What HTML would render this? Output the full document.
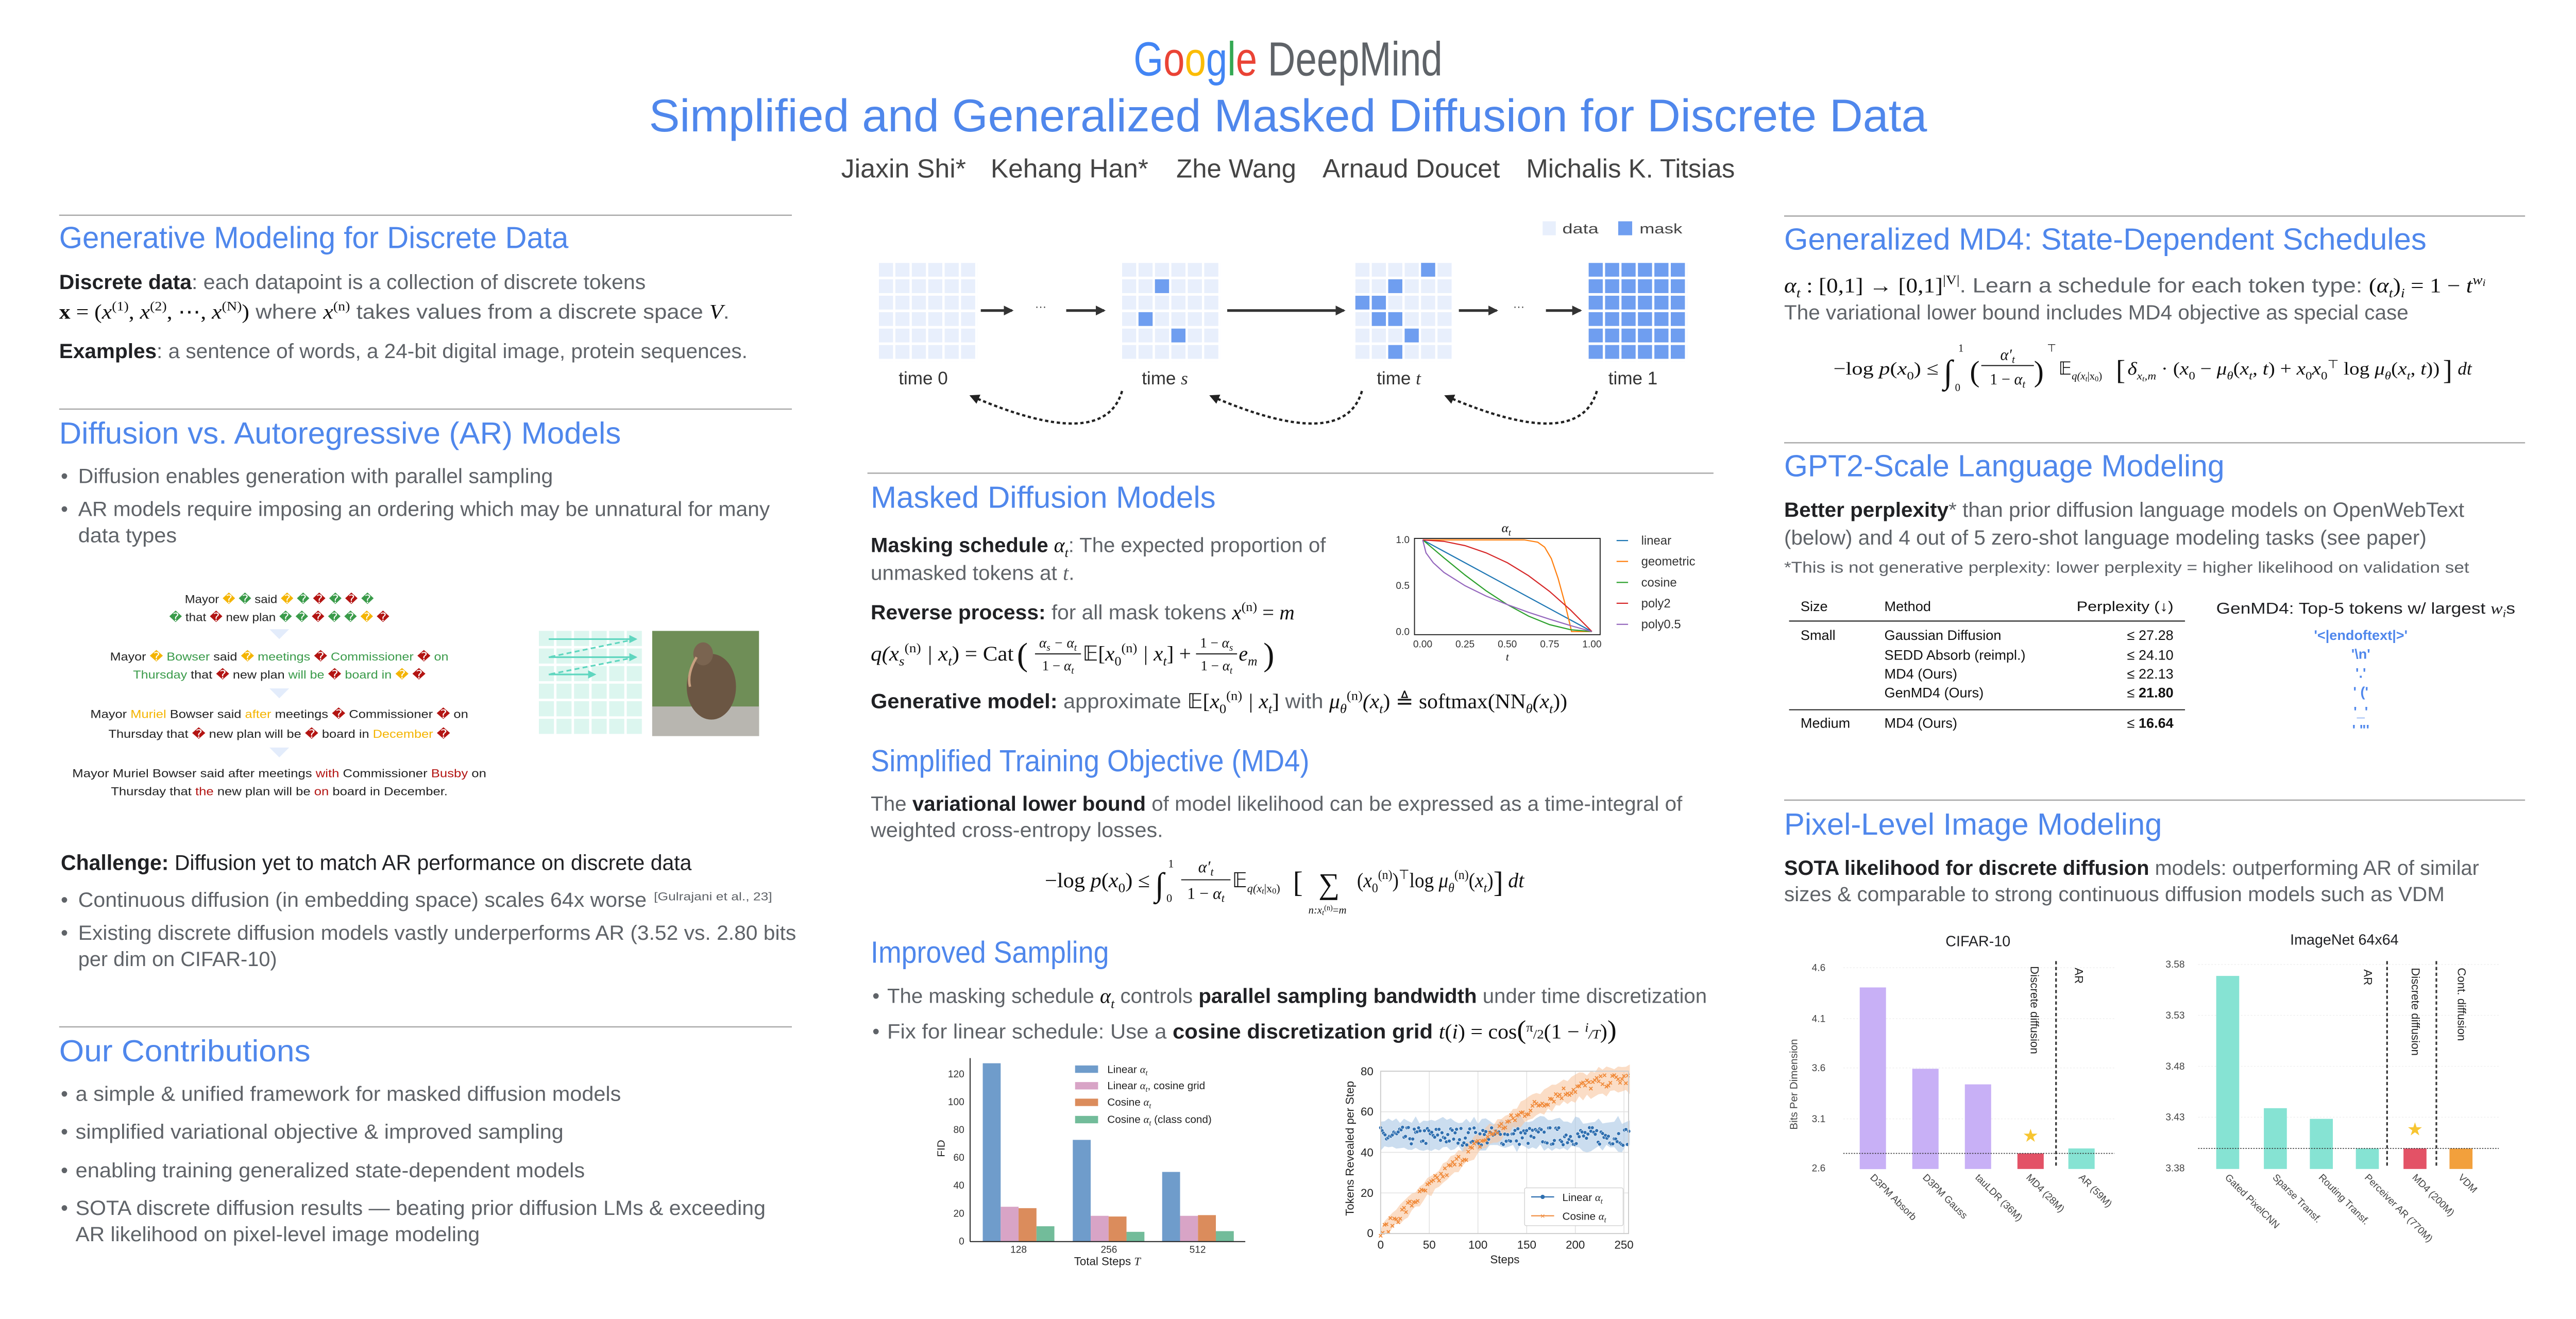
<!DOCTYPE html>
<html><head><meta charset="utf-8"><style>
html,body{margin:0;padding:0;background:#fff;width:100%;overflow:hidden;}
svg#p{display:block;width:100vw;height:50vw;}
text{font-family:"Liberation Sans",sans-serif;}
.h{font-size:18.5px;fill:#4f87ec;}
.b{font-size:12.5px;fill:#5f6368;}
.k{fill:#202124;font-weight:bold;}
.m{font-family:"Liberation Serif",serif;font-style:italic;}
.r{font-family:"Liberation Serif",serif;}
.s{font-size:7px;fill:#333;}
.tk{font-size:6px;fill:#333;}
.tb{font-family:"Liberation Serif",serif;font-size:8.5px;fill:#111;}
.ax{stroke:#222;stroke-width:0.6;fill:none;}
</style></head><body>
<svg id="p" xmlns="http://www.w3.org/2000/svg" width="5120" height="2560" viewBox="0 0 1568 784" preserveAspectRatio="none">
<defs>
<pattern id="cd" x="0" y="0" width="10" height="10" patternUnits="userSpaceOnUse"><rect width="8.6" height="8.4" fill="#e8effc"/></pattern>
<pattern id="cm" x="0" y="0" width="10" height="10" patternUnits="userSpaceOnUse"><rect width="8.6" height="8.4" fill="#6f9ef0"/></pattern>
<pattern id="cg" x="0" y="0" width="10.7" height="10.7" patternUnits="userSpaceOnUse"><rect width="9.2" height="9.2" fill="#dcf6ef"/></pattern>
<marker id="ah" markerWidth="6" markerHeight="6" refX="5" refY="3" orient="auto" markerUnits="userSpaceOnUse"><path d="M0,0 L6,3 L0,6 z" fill="#333"/></marker>
<marker id="ah2" markerWidth="6" markerHeight="6" refX="5" refY="3" orient="auto" markerUnits="userSpaceOnUse"><path d="M0,0 L6,3 L0,6 z" fill="#222"/></marker>
<marker id="ta" markerWidth="5" markerHeight="5" refX="4" refY="2.5" orient="auto" markerUnits="userSpaceOnUse"><path d="M0,0 L5,2.5 L0,5 z" fill="#5fd6bf"/></marker>
</defs>

<text x="690" y="46" font-size="29" textLength="188" lengthAdjust="spacingAndGlyphs"><tspan fill="#4285f4">G</tspan><tspan fill="#ea4335">o</tspan><tspan fill="#fbbc05">o</tspan><tspan fill="#4285f4">g</tspan><tspan fill="#34a853">l</tspan><tspan fill="#ea4335">e</tspan><tspan fill="#5f6368"> DeepMind</tspan></text>
<text x="395" y="80" font-size="28" fill="#4f87ec" textLength="778" lengthAdjust="spacingAndGlyphs">Simplified and Generalized Masked Diffusion for Discrete Data</text>
<g font-size="16" fill="#444">
<text x="512" y="108" textLength="76" lengthAdjust="spacingAndGlyphs">Jiaxin Shi*</text>
<text x="603" y="108" textLength="96" lengthAdjust="spacingAndGlyphs">Kehang Han*</text>
<text x="716" y="108" textLength="73" lengthAdjust="spacingAndGlyphs">Zhe Wang</text>
<text x="805" y="108" textLength="108" lengthAdjust="spacingAndGlyphs">Arnaud Doucet</text>
<text x="929" y="108" textLength="127" lengthAdjust="spacingAndGlyphs">Michalis K. Titsias</text>
</g>

<line x1="36" y1="131" x2="482" y2="131" stroke="#aaa" stroke-width="0.8"/>
<text class="h" x="36" y="151" textLength="310" lengthAdjust="spacingAndGlyphs">Generative Modeling for Discrete Data</text>
<text class="b" x="36" y="176" textLength="357" lengthAdjust="spacingAndGlyphs"><tspan class="k">Discrete data</tspan>: each datapoint is a collection of discrete tokens</text>
<text class="b" x="36" y="194" textLength="408" lengthAdjust="spacingAndGlyphs" fill="#333"><tspan class="r" font-weight="bold" fill="#111">x</tspan><tspan class="r" fill="#111"> = (</tspan><tspan class="m" fill="#111">x</tspan><tspan class="r" font-size="8" dy="-5" fill="#111">(1)</tspan><tspan class="r" dy="5" fill="#111">, </tspan><tspan class="m" fill="#111">x</tspan><tspan class="r" font-size="8" dy="-5" fill="#111">(2)</tspan><tspan class="r" dy="5" fill="#111">, ⋯, </tspan><tspan class="m" fill="#111">x</tspan><tspan class="r" font-size="8" dy="-5" fill="#111">(N)</tspan><tspan class="r" dy="5" fill="#111">)</tspan> where <tspan class="m" fill="#111">x</tspan><tspan class="r" font-size="8" dy="-5" fill="#111">(n)</tspan><tspan dy="5"> takes values from a discrete space </tspan><tspan class="m" fill="#111">V</tspan>.</text>
<text class="b" x="36" y="218" textLength="419" lengthAdjust="spacingAndGlyphs"><tspan class="k">Examples</tspan>: a sentence of words, a 24-bit digital image, protein sequences.</text>

<line x1="36" y1="249" x2="482" y2="249" stroke="#aaa" stroke-width="0.8"/>
<text class="h" x="36" y="270" textLength="342" lengthAdjust="spacingAndGlyphs">Diffusion vs. Autoregressive (AR) Models</text>
<g class="b">
<text x="37" y="294">•</text><text x="47.6" y="294" textLength="289" lengthAdjust="spacingAndGlyphs">Diffusion enables generation with parallel sampling</text>
<text x="37" y="314">•</text><text x="47.6" y="314" textLength="421" lengthAdjust="spacingAndGlyphs">AR models require imposing an ordering which may be unnatural for many</text>
<text x="47.6" y="330" textLength="60" lengthAdjust="spacingAndGlyphs">data types</text>
</g>

<g font-size="7" fill="#222" text-anchor="middle">
<text x="170" y="367" textLength="115" lengthAdjust="spacingAndGlyphs">Mayor <tspan fill="#f4b400">�</tspan> <tspan fill="#3a9b4a">�</tspan> said <tspan fill="#f4b400">�</tspan> <tspan fill="#3a9b4a">�</tspan> <tspan fill="#b31412">�</tspan> <tspan fill="#3a9b4a">�</tspan> <tspan fill="#b31412">�</tspan> <tspan fill="#3a9b4a">�</tspan></text>
<text x="170" y="378" textLength="134" lengthAdjust="spacingAndGlyphs"><tspan fill="#3a9b4a">�</tspan> that <tspan fill="#b31412">�</tspan> new plan <tspan fill="#3a9b4a">�</tspan> <tspan fill="#3a9b4a">�</tspan> <tspan fill="#b31412">�</tspan> <tspan fill="#3a9b4a">�</tspan> <tspan fill="#3a9b4a">�</tspan> <tspan fill="#f4b400">�</tspan> <tspan fill="#b31412">�</tspan></text>
<text x="170" y="402" textLength="206" lengthAdjust="spacingAndGlyphs">Mayor <tspan fill="#f4b400">�</tspan> <tspan fill="#3a9b4a">Bowser</tspan> said <tspan fill="#f4b400">�</tspan> <tspan fill="#3a9b4a">meetings</tspan> <tspan fill="#b31412">�</tspan> <tspan fill="#3a9b4a">Commissioner</tspan> <tspan fill="#b31412">�</tspan> <tspan fill="#3a9b4a">on</tspan></text>
<text x="170" y="413" textLength="178" lengthAdjust="spacingAndGlyphs"><tspan fill="#3a9b4a">Thursday</tspan> that <tspan fill="#b31412">�</tspan> new plan <tspan fill="#3a9b4a">will be</tspan> <tspan fill="#b31412">�</tspan> <tspan fill="#3a9b4a">board in</tspan> <tspan fill="#f4b400">�</tspan> <tspan fill="#b31412">�</tspan></text>
<text x="170" y="437" textLength="230" lengthAdjust="spacingAndGlyphs">Mayor <tspan fill="#f4b400">Muriel</tspan> Bowser said <tspan fill="#f4b400">after</tspan> meetings <tspan fill="#b31412">�</tspan> Commissioner <tspan fill="#b31412">�</tspan> on</text>
<text x="170" y="449" textLength="208" lengthAdjust="spacingAndGlyphs">Thursday that <tspan fill="#b31412">�</tspan> new plan will be <tspan fill="#b31412">�</tspan> board in <tspan fill="#f4b400">December</tspan> <tspan fill="#b31412">�</tspan></text>
<text x="170" y="473" textLength="252" lengthAdjust="spacingAndGlyphs">Mayor Muriel Bowser said after meetings <tspan fill="#b31412">with</tspan> Commissioner <tspan fill="#b31412">Busby</tspan> on</text>
<text x="170" y="484" textLength="205" lengthAdjust="spacingAndGlyphs">Thursday that <tspan fill="#b31412">the</tspan> new plan will be <tspan fill="#b31412">on</tspan> board in December.</text>
</g>
<g fill="#e3ecfb">
<path d="M164,383 L176,383 L170,389 z"/><path d="M164,419 L176,419 L170,425 z"/><path d="M164,455 L176,455 L170,461 z"/>
</g>
<g transform="translate(328,384)"><rect width="64" height="64" fill="url(#cg)"/></g>
<g stroke="#5fd6bf" stroke-width="1">
<line x1="334" y1="389" x2="387" y2="389" marker-end="url(#ta)"/>
<line x1="334" y1="400" x2="387" y2="400" marker-end="url(#ta)"/>
<line x1="334" y1="410.5" x2="362" y2="410.5" marker-end="url(#ta)"/>
<line x1="387" y1="389" x2="334" y2="400" stroke-dasharray="3,2"/>
<line x1="387" y1="400" x2="334" y2="410.5" stroke-dasharray="3,2"/>
</g>
<rect x="397" y="384" width="65" height="64" fill="#6f8e57"/>
<rect x="397" y="430" width="65" height="18" fill="#b8b6b0"/>
<ellipse cx="433" cy="418" rx="15" ry="20" fill="#6b5643"/>
<ellipse cx="428" cy="398" rx="6" ry="7" fill="#7a6450"/>
<path d="M424,400 Q418,410 420,418" stroke="#c8a080" stroke-width="1.5" fill="none"/>

<text x="37" y="529.5" font-size="13" fill="#202124" textLength="384" lengthAdjust="spacingAndGlyphs"><tspan font-weight="bold">Challenge:</tspan> Diffusion yet to match AR performance on discrete data</text>
<g class="b">
<text x="37" y="552">•</text><text x="47.6" y="552" textLength="346" lengthAdjust="spacingAndGlyphs">Continuous diffusion (in embedding space) scales 64x worse</text>
<text x="398" y="548" font-size="7" textLength="72" lengthAdjust="spacingAndGlyphs">[Gulrajani et al., 23]</text>
<text x="37" y="572">•</text><text x="47.6" y="572" textLength="437" lengthAdjust="spacingAndGlyphs">Existing discrete diffusion models vastly underperforms AR (3.52 vs. 2.80 bits</text>
<text x="47.6" y="588" textLength="121" lengthAdjust="spacingAndGlyphs">per dim on CIFAR-10)</text>
</g>

<line x1="36" y1="625" x2="482" y2="625" stroke="#aaa" stroke-width="0.8"/>
<text class="h" x="36" y="646" textLength="153" lengthAdjust="spacingAndGlyphs">Our Contributions</text>
<g class="b">
<text x="37" y="670">•</text><text x="46" y="670" textLength="332" lengthAdjust="spacingAndGlyphs">a simple &amp; unified framework for masked diffusion models</text>
<text x="37" y="693">•</text><text x="46" y="693" textLength="297" lengthAdjust="spacingAndGlyphs">simplified variational objective &amp; improved sampling</text>
<text x="37" y="716.5">•</text><text x="46" y="716.5" textLength="310" lengthAdjust="spacingAndGlyphs">enabling training generalized state-dependent models</text>
<text x="37" y="739.5">•</text><text x="46" y="739.5" textLength="420" lengthAdjust="spacingAndGlyphs">SOTA discrete diffusion results — beating prior diffusion LMs &amp; exceeding</text>
<text x="46" y="755.5" textLength="246" lengthAdjust="spacingAndGlyphs">AR likelihood on pixel-level image modeling</text>
</g>

<rect x="939" y="134.7" width="8" height="8.5" fill="#e8effc"/>
<text x="951" y="142" font-size="8.5" fill="#444" textLength="22" lengthAdjust="spacingAndGlyphs">data</text>
<rect x="985" y="134.7" width="8.5" height="8.5" fill="#6f9ef0"/>
<text x="998" y="142" font-size="8.5" fill="#444" textLength="26" lengthAdjust="spacingAndGlyphs">mask</text>

<g transform="translate(535,160)"><rect width="60" height="60" fill="url(#cd)"/></g>
<g transform="translate(683,160)"><rect width="60" height="60" fill="url(#cd)"/>
<g fill="#6f9ef0"><rect x="20" y="10" width="8.6" height="8.4"/><rect x="10" y="30" width="8.6" height="8.4"/><rect x="30" y="40" width="8.6" height="8.4"/></g></g>
<g transform="translate(825,160)"><rect width="60" height="60" fill="url(#cd)"/>
<g fill="#6f9ef0"><rect x="40" y="0" width="8.6" height="8.4"/><rect x="20" y="10" width="8.6" height="8.4"/><rect x="0" y="20" width="8.6" height="8.4"/><rect x="10" y="20" width="8.6" height="8.4"/><rect x="10" y="30" width="8.6" height="8.4"/><rect x="20" y="30" width="8.6" height="8.4"/><rect x="30" y="40" width="8.6" height="8.4"/><rect x="20" y="50" width="8.6" height="8.4"/></g></g>
<g transform="translate(967,160)"><rect width="60" height="60" fill="url(#cm)"/></g>
<g font-size="11" fill="#333">
<text x="547" y="234">time 0</text>
<text x="695" y="234">time <tspan class="m">s</tspan></text>
<text x="838" y="234">time <tspan class="m">t</tspan></text>
<text x="979" y="234">time 1</text>
</g>
<g stroke="#333" stroke-width="1.6">
<line x1="597" y1="189" x2="616" y2="189" marker-end="url(#ah)"/>
<line x1="649" y1="189" x2="672" y2="189" marker-end="url(#ah)"/>
<line x1="747" y1="189" x2="818" y2="189" marker-end="url(#ah)"/>
<line x1="888" y1="189" x2="911" y2="189" marker-end="url(#ah)"/>
<line x1="941" y1="189" x2="962" y2="189" marker-end="url(#ah)"/>
</g>
<text x="630" y="189" font-size="7" fill="#333">···</text>
<text x="921" y="189" font-size="7" fill="#333">···</text>
<g stroke="#222" stroke-width="1.4" fill="none" stroke-dasharray="2,1.6">
<path d="M683,238 Q672,276 591,241" marker-end="url(#ah2)"/>
<path d="M829,238 Q818,276 737,241" marker-end="url(#ah2)"/>
<path d="M972,238 Q961,276 880,241" marker-end="url(#ah2)"/>
</g>

<line x1="528" y1="288" x2="1043" y2="288" stroke="#aaa" stroke-width="0.8"/>
<text class="h" x="530" y="309" textLength="210" lengthAdjust="spacingAndGlyphs">Masked Diffusion Models</text>
<text class="b" x="530" y="336" textLength="277" lengthAdjust="spacingAndGlyphs"><tspan class="k">Masking schedule </tspan><tspan class="m" fill="#111">α</tspan><tspan class="m" font-size="8" dy="3" fill="#111">t</tspan><tspan dy="-3">: The expected proportion of</tspan></text>
<text class="b" x="530" y="353" textLength="124" lengthAdjust="spacingAndGlyphs">unmasked tokens at <tspan class="m">t</tspan>.</text>
<text class="b" x="530" y="377" textLength="258" lengthAdjust="spacingAndGlyphs"><tspan class="k">Reverse process:</tspan> for all mask tokens <tspan class="m" fill="#111">x</tspan><tspan class="r" font-size="8" dy="-5" fill="#111">(n)</tspan><tspan class="r" dy="5" fill="#111"> = </tspan><tspan class="m" fill="#111">m</tspan></text>
<g fill="#111" font-size="12.5">
<text x="530" y="402" class="m" textLength="87" lengthAdjust="spacingAndGlyphs">q(x<tspan font-size="8" dy="3">s</tspan><tspan font-size="8" dy="-8" font-style="normal">(n)</tspan><tspan dy="5"> | x</tspan><tspan font-size="8" dy="3">t</tspan><tspan dy="-3" font-style="normal">) = Cat</tspan></text>
<text x="619" y="405" class="r" font-size="20">(</text>
<text x="644" y="394" class="m" font-size="8.5" text-anchor="middle">α<tspan font-size="6" dy="2">s</tspan><tspan dy="-2"> − α</tspan><tspan font-size="6" dy="2">t</tspan></text>
<line x1="630" y1="398" x2="658" y2="398" stroke="#111" stroke-width="0.6"/>
<text x="644" y="408" class="m" font-size="8.5" text-anchor="middle"><tspan font-style="normal">1 − </tspan>α<tspan font-size="6" dy="2">t</tspan></text>
<text x="659" y="402" class="m" textLength="66" lengthAdjust="spacingAndGlyphs"><tspan class="r" font-style="normal">𝔼[</tspan>x<tspan font-size="8" dy="3" font-style="normal">0</tspan><tspan font-size="8" dy="-8" font-style="normal">(n)</tspan><tspan dy="5"> | x</tspan><tspan font-size="8" dy="3">t</tspan><tspan dy="-3" font-style="normal">] +</tspan></text>
<text x="740.5" y="394" class="m" font-size="8.5" text-anchor="middle"><tspan font-style="normal">1 − </tspan>α<tspan font-size="6" dy="2">s</tspan></text>
<line x1="728" y1="398" x2="753" y2="398" stroke="#111" stroke-width="0.6"/>
<text x="740.5" y="408" class="m" font-size="8.5" text-anchor="middle"><tspan font-style="normal">1 − </tspan>α<tspan font-size="6" dy="2">t</tspan></text>
<text x="754" y="402" class="m">e<tspan font-size="8" dy="3">m</tspan></text>
<text x="769" y="405" class="r" font-size="20">)</text>
</g>
<text class="b" x="530" y="431" textLength="424" lengthAdjust="spacingAndGlyphs"><tspan class="k">Generative model:</tspan> approximate <tspan class="r" fill="#111">𝔼[</tspan><tspan class="m" fill="#111">x</tspan><tspan class="r" font-size="8" dy="3" fill="#111">0</tspan><tspan class="r" font-size="8" dy="-8" fill="#111">(n)</tspan><tspan class="m" dy="5" fill="#111"> | x</tspan><tspan class="m" font-size="8" dy="3" fill="#111">t</tspan><tspan class="r" dy="-3" fill="#111">]</tspan> with <tspan class="m" fill="#111">μ</tspan><tspan class="m" font-size="8" dy="3" fill="#111">θ</tspan><tspan class="r" font-size="8" dy="-8" fill="#111">(n)</tspan><tspan class="m" dy="5" fill="#111">(x</tspan><tspan class="m" font-size="8" dy="3" fill="#111">t</tspan><tspan class="r" dy="-3" fill="#111">) ≜ softmax(NN</tspan><tspan class="m" font-size="8" dy="3" fill="#111">θ</tspan><tspan class="m" dy="-3" fill="#111">(x</tspan><tspan class="m" font-size="8" dy="3" fill="#111">t</tspan><tspan class="r" dy="-3" fill="#111">))</tspan></text>

<text x="914" y="324" class="m" font-size="8" fill="#111">α<tspan font-size="5.5" dy="2">t</tspan></text>
<rect x="861" y="327.7" width="113" height="58.6" fill="none" stroke="#222" stroke-width="0.6"/>
<g class="tk" text-anchor="end"><text x="858" y="330.5">1.0</text><text x="858" y="358.5">0.5</text><text x="858" y="386.5">0.0</text></g>
<g class="tk" text-anchor="middle"><text x="866" y="394">0.00</text><text x="891.75" y="394">0.25</text><text x="917.5" y="394">0.50</text><text x="943.25" y="394">0.75</text><text x="969" y="394">1.00</text></g>
<text x="917.5" y="402" class="m" font-size="6.5" text-anchor="middle" fill="#111">t</text>
<g fill="none" stroke-width="0.7">
<polyline stroke="#1f77b4" points="866,328.6 969,384.4"/>
<polyline stroke="#ff7f0e" points="866,328.6 927.8,328.6 936,330 940.2,333 944.3,340 948.4,352 952.5,367 955.6,380 956.6,384.4 969,384.4"/>
<polyline stroke="#2ca02c" points="866,328.6 878.9,339.5 891.75,350 904.6,359.6 917.5,368 930.4,375 943.25,380.2 956.1,383.3 969,384.4"/>
<polyline stroke="#d62728" points="866,328.6 878.9,329.5 891.75,332.1 904.6,336.5 917.5,342.5 930.4,350.4 943.25,360 956.1,371.4 969,384.4"/>
<polyline stroke="#9467bd" points="866,328.6 868,336.5 872.4,342.5 878.9,348.4 891.75,356.5 904.6,362.8 917.5,368 930.4,372.7 943.25,376.9 956.1,380.8 969,384.4"/>
</g>
<g font-size="7.5" fill="#333">
<line x1="984" y1="329" x2="991" y2="329" stroke="#1f77b4" stroke-width="0.7"/><text x="999" y="331.5">linear</text>
<line x1="984" y1="341.7" x2="991" y2="341.7" stroke="#ff7f0e" stroke-width="0.7"/><text x="999" y="344.2">geometric</text>
<line x1="984" y1="354.5" x2="991" y2="354.5" stroke="#2ca02c" stroke-width="0.7"/><text x="999" y="357">cosine</text>
<line x1="984" y1="367.2" x2="991" y2="367.2" stroke="#d62728" stroke-width="0.7"/><text x="999" y="369.7">poly2</text>
<line x1="984" y1="380" x2="991" y2="380" stroke="#9467bd" stroke-width="0.7"/><text x="999" y="382.5">poly0.5</text>
</g>

<text class="h" x="530" y="469.5" textLength="267" lengthAdjust="spacingAndGlyphs">Simplified Training Objective (MD4)</text>
<text class="b" x="530" y="493.5" textLength="494" lengthAdjust="spacingAndGlyphs">The <tspan class="k">variational lower bound</tspan> of model likelihood can be expressed as a time-integral of</text>
<text class="b" x="530" y="509.5" textLength="178" lengthAdjust="spacingAndGlyphs">weighted cross-entropy losses.</text>
<g fill="#111" font-size="12.5">
<text x="636" y="540" class="r" textLength="64" lengthAdjust="spacingAndGlyphs">−log <tspan class="m">p</tspan>(<tspan class="m">x</tspan><tspan font-size="8" dy="3">0</tspan><tspan dy="-3">) ≤</tspan></text>
<text x="703" y="545" class="r" font-size="20">∫</text>
<text x="711" y="528" class="r" font-size="7">1</text><text x="710" y="549" class="r" font-size="7">0</text>
<text x="734" y="531" class="m" font-size="10" text-anchor="middle">α′<tspan font-size="7" dy="2">t</tspan></text>
<line x1="719" y1="535.5" x2="749" y2="535.5" stroke="#111" stroke-width="0.6"/>
<text x="734" y="547" class="m" font-size="10" text-anchor="middle"><tspan font-style="normal">1 − </tspan>α<tspan font-size="7" dy="2">t</tspan></text>
<text x="750" y="540" class="r">𝔼<tspan class="m" font-size="7" dy="3">q(x</tspan><tspan class="m" font-size="5" dy="1">t</tspan><tspan class="r" font-size="7" dy="-1">|x</tspan><tspan class="r" font-size="5" dy="1">0</tspan><tspan class="r" font-size="7" dy="-1">)</tspan></text>
<text x="787" y="543" class="r" font-size="18">[</text>
<text x="809" y="544" class="r" font-size="18" text-anchor="middle">∑</text>
<text x="808" y="556" class="m" font-size="6.5" text-anchor="middle">n:x<tspan font-size="4.5" dy="1">t</tspan><tspan font-size="4.5" dy="-3" font-style="normal">(n)</tspan><tspan dy="2" font-style="normal">=</tspan>m</text>
<text x="826" y="540" class="r" textLength="83" lengthAdjust="spacingAndGlyphs">(<tspan class="m">x</tspan><tspan font-size="8" dy="3">0</tspan><tspan font-size="8" dy="-8">(n)</tspan><tspan dy="5">)</tspan><tspan font-size="8" dy="-5">⊤</tspan><tspan dy="5">log </tspan><tspan class="m">μ</tspan><tspan class="m" font-size="8" dy="3">θ</tspan><tspan font-size="8" dy="-8">(n)</tspan><tspan dy="5">(</tspan><tspan class="m">x</tspan><tspan class="m" font-size="8" dy="3">t</tspan><tspan dy="-3">)</tspan></text>
<text x="909" y="543" class="r" font-size="18">]</text>
<text x="918" y="540" class="m">dt</text>
</g>

<text class="h" x="530" y="586" textLength="145" lengthAdjust="spacingAndGlyphs">Improved Sampling</text>
<g class="b">
<text x="531" y="610.5">•</text>
<text x="540" y="610.5" textLength="499" lengthAdjust="spacingAndGlyphs">The masking schedule <tspan class="m" fill="#111">α</tspan><tspan class="m" font-size="8" dy="3" fill="#111">t</tspan><tspan dy="-3"> controls </tspan><tspan class="k">parallel sampling bandwidth</tspan> under time discretization</text>
<text x="531" y="632">•</text>
<text x="540" y="632" textLength="444" lengthAdjust="spacingAndGlyphs">Fix for linear schedule: Use a <tspan class="k">cosine discretization grid </tspan><tspan class="m" fill="#111">t</tspan><tspan class="r" fill="#111">(</tspan><tspan class="m" fill="#111">i</tspan><tspan class="r" fill="#111">) = cos</tspan><tspan class="r" fill="#111" font-size="16">(</tspan><tspan class="r" fill="#111" font-size="8" dy="-4">π</tspan><tspan class="r" fill="#111" font-size="8" dy="4">/2</tspan><tspan class="r" fill="#111">(1 − </tspan><tspan class="m" fill="#111" font-size="8" dy="-4">i</tspan><tspan class="m" fill="#111" font-size="8" dy="4">/T</tspan><tspan class="r" fill="#111">)</tspan><tspan class="r" fill="#111" font-size="16">)</tspan></text>
</g>

<g id="fid"></g>
<line x1="590.5" y1="644" x2="590.5" y2="755.7" class="ax"/>
<line x1="590.5" y1="755.7" x2="758" y2="755.7" class="ax"/>
<g class="tk" text-anchor="end" font-size="5.5">
<text x="587" y="757.5">0</text><text x="587" y="740.5">20</text><text x="587" y="723.5">40</text><text x="587" y="706.6">60</text><text x="587" y="689.6">80</text><text x="587" y="672.7">100</text><text x="587" y="655.7">120</text>
</g>
<g class="tk" text-anchor="middle" font-size="5.5"><text x="620" y="762.5">128</text><text x="675" y="762.5">256</text><text x="729" y="762.5">512</text></g>
<text x="674" y="770" font-size="7" fill="#222" text-anchor="middle">Total Steps <tspan class="m">T</tspan></text>
<text transform="translate(575,699) rotate(-90)" font-size="6.5" fill="#222" text-anchor="middle">FID</text>
<g font-size="6.5" fill="#222">
<rect x="654.4" y="648.5" width="14" height="4.5" fill="#6f9ccb"/><text x="674" y="653">Linear <tspan class="m">α</tspan><tspan class="m" font-size="4.5" dy="1.5">t</tspan></text>
<rect x="654.4" y="658.6" width="14" height="4.5" fill="#d8a4c6"/><text x="674" y="663">Linear <tspan class="m">α</tspan><tspan class="m" font-size="4.5" dy="1.5">t</tspan><tspan dy="-1.5">, cosine grid</tspan></text>
<rect x="654.4" y="668.7" width="14" height="4.5" fill="#db8c5c"/><text x="674" y="673">Cosine <tspan class="m">α</tspan><tspan class="m" font-size="4.5" dy="1.5">t</tspan></text>
<rect x="654.4" y="679.2" width="14" height="4.5" fill="#72bc9a"/><text x="674" y="683.5">Cosine <tspan class="m">α</tspan><tspan class="m" font-size="4.5" dy="1.5">t</tspan><tspan dy="-1.5"> (class cond)</tspan></text>
</g>

<g stroke="#e2e2e2" stroke-width="0.5">
<line x1="840.4" y1="652" x2="991.3" y2="652"/><line x1="840.4" y1="676.7" x2="991.3" y2="676.7"/><line x1="840.4" y1="701.4" x2="991.3" y2="701.4"/><line x1="840.4" y1="726.1" x2="991.3" y2="726.1"/>
<line x1="870" y1="652" x2="870" y2="750.8"/><line x1="899.6" y1="652" x2="899.6" y2="750.8"/><line x1="929.3" y1="652" x2="929.3" y2="750.8"/><line x1="958.9" y1="652" x2="958.9" y2="750.8"/><line x1="988.5" y1="652" x2="988.5" y2="750.8"/>
</g>
<g id="sc"></g>
<rect x="840.4" y="652" width="150.9" height="98.8" fill="none" stroke="#ccc" stroke-width="0.6"/>
<g font-size="7" fill="#222" text-anchor="end"><text x="836" y="753">0</text><text x="836" y="728.5">20</text><text x="836" y="703.8">40</text><text x="836" y="679">60</text><text x="836" y="654.5">80</text></g>
<g font-size="7" fill="#222" text-anchor="middle"><text x="840.4" y="760">0</text><text x="870" y="760">50</text><text x="899.6" y="760">100</text><text x="929.3" y="760">150</text><text x="958.9" y="760">200</text><text x="988.5" y="760">250</text></g>
<text x="916" y="769" font-size="7" fill="#222" text-anchor="middle">Steps</text>
<text transform="translate(824,699) rotate(-90)" font-size="7" fill="#222" text-anchor="middle">Tokens Revealed per Step</text>
<rect x="928" y="723" width="60" height="23" fill="#fff" stroke="#ccc" stroke-width="0.4" rx="1"/>
<line x1="932" y1="728.5" x2="946" y2="728.5" stroke="#2f6fb0" stroke-width="0.7"/><circle cx="939" cy="728.5" r="1.3" fill="#2f6fb0"/>
<line x1="932" y1="740" x2="946" y2="740" stroke="#f08a3a" stroke-width="0.7"/><text x="939" y="741.8" font-size="5" fill="#f08a3a" text-anchor="middle">×</text>
<g font-size="6.5" fill="#222"><text x="951" y="731">Linear <tspan class="m">α</tspan><tspan class="m" font-size="4.5" dy="1.5">t</tspan></text><text x="951" y="742.5">Cosine <tspan class="m">α</tspan><tspan class="m" font-size="4.5" dy="1.5">t</tspan></text></g>

<line x1="1086" y1="131.5" x2="1537" y2="131.5" stroke="#aaa" stroke-width="0.8"/>
<text class="h" x="1086" y="152" textLength="391" lengthAdjust="spacingAndGlyphs">Generalized MD4: State-Dependent Schedules</text>
<text class="b" x="1086" y="178" textLength="427" lengthAdjust="spacingAndGlyphs"><tspan class="m" fill="#111">α</tspan><tspan class="m" font-size="8" dy="3" fill="#111">t</tspan><tspan class="r" dy="-3" fill="#111"> : [0,1] → [0,1]</tspan><tspan class="r" font-size="8" dy="-5" fill="#111">|V|</tspan><tspan dy="5">. Learn a schedule for each token type: </tspan><tspan class="r" fill="#111">(</tspan><tspan class="m" fill="#111">α</tspan><tspan class="m" font-size="8" dy="3" fill="#111">t</tspan><tspan class="r" dy="-3" fill="#111">)</tspan><tspan class="m" font-size="8" dy="3" fill="#111">i</tspan><tspan class="r" dy="-3" fill="#111"> = 1 − </tspan><tspan class="m" fill="#111">t</tspan><tspan class="m" font-size="8" dy="-5" fill="#111">w</tspan><tspan class="m" font-size="6" dy="1" fill="#111">i</tspan></text>
<text class="b" x="1086" y="194.5" textLength="380" lengthAdjust="spacingAndGlyphs">The variational lower bound includes MD4 objective as special case</text>
<g fill="#111" font-size="11">
<text x="1116" y="228" class="r" textLength="64" lengthAdjust="spacingAndGlyphs">−log <tspan class="m">p</tspan>(<tspan class="m">x</tspan><tspan font-size="7" dy="3">0</tspan><tspan dy="-3">) ≤</tspan></text>
<text x="1183" y="233" class="r" font-size="20">∫</text>
<text x="1192" y="214" class="r" font-size="6.5">1</text><text x="1190" y="238" class="r" font-size="6.5">0</text>
<text x="1199" y="232" class="r" font-size="18">(</text>
<text x="1222" y="219" class="m" font-size="9.5" text-anchor="middle">α′<tspan font-size="6.5" dy="2">t</tspan></text>
<line x1="1206" y1="222.5" x2="1238" y2="222.5" stroke="#111" stroke-width="0.6"/>
<text x="1222" y="234" class="m" font-size="9.5" text-anchor="middle"><tspan font-style="normal">1 − </tspan>α<tspan font-size="6.5" dy="2">t</tspan></text>
<text x="1238" y="232" class="r" font-size="18">)</text>
<text x="1246" y="214" class="r" font-size="6.5">⊤</text>
<text x="1253" y="228" class="r">𝔼<tspan class="m" font-size="6.5" dy="3">q(x</tspan><tspan class="m" font-size="4.5" dy="1">t</tspan><tspan font-size="6.5" dy="-1">|x</tspan><tspan font-size="4.5" dy="1">0</tspan><tspan font-size="6.5" dy="-1">)</tspan></text>
<text x="1288" y="231" class="r" font-size="17">[</text>
<text x="1295" y="228" class="r" textLength="190" lengthAdjust="spacingAndGlyphs"><tspan class="m">δ</tspan><tspan class="m" font-size="6.5" dy="3">x</tspan><tspan class="m" font-size="4.5" dy="1">t</tspan><tspan class="m" font-size="6.5" dy="-1">,m</tspan><tspan dy="-3"> · (</tspan><tspan class="m">x</tspan><tspan font-size="7" dy="3">0</tspan><tspan dy="-3"> − </tspan><tspan class="m">μ</tspan><tspan class="m" font-size="7" dy="3">θ</tspan><tspan dy="-3">(</tspan><tspan class="m">x</tspan><tspan class="m" font-size="7" dy="3">t</tspan><tspan dy="-3">, </tspan><tspan class="m">t</tspan><tspan>) + </tspan><tspan class="m">x</tspan><tspan font-size="7" dy="3">0</tspan><tspan class="m" dy="-3">x</tspan><tspan font-size="7" dy="3">0</tspan><tspan font-size="7" dy="-7">⊤</tspan><tspan dy="4"> log </tspan><tspan class="m">μ</tspan><tspan class="m" font-size="7" dy="3">θ</tspan><tspan dy="-3">(</tspan><tspan class="m">x</tspan><tspan class="m" font-size="7" dy="3">t</tspan><tspan dy="-3">, </tspan><tspan class="m">t</tspan><tspan>))</tspan></text>
<text x="1487" y="231" class="r" font-size="17">]</text>
<text x="1496" y="228" class="m">dt</text>
</g>

<line x1="1086" y1="269.5" x2="1537" y2="269.5" stroke="#aaa" stroke-width="0.8"/>
<text class="h" x="1086" y="290" textLength="268" lengthAdjust="spacingAndGlyphs">GPT2-Scale Language Modeling</text>
<text class="b" x="1086" y="314.5" textLength="414" lengthAdjust="spacingAndGlyphs"><tspan class="k">Better perplexity</tspan>* than prior diffusion language models on OpenWebText</text>
<text class="b" x="1086" y="331.5" textLength="391" lengthAdjust="spacingAndGlyphs">(below) and 4 out of 5 zero-shot language modeling tasks (see paper)</text>
<text x="1086" y="348.5" font-size="9.5" fill="#5f6368" textLength="417" lengthAdjust="spacingAndGlyphs">*This is not generative perplexity: lower perplexity = higher likelihood on validation set</text>

<g class="tb">
<text x="1096" y="372">Size</text><text x="1147" y="372">Method</text><text x="1264" y="372" textLength="59" lengthAdjust="spacingAndGlyphs">Perplexity (↓)</text>
<line x1="1089" y1="378" x2="1330" y2="378" stroke="#111" stroke-width="0.6"/>
<text x="1096" y="389.5">Small</text>
<text x="1147" y="389.5">Gaussian Diffusion</text>
<text x="1147" y="401.5">SEDD Absorb (reimpl.)</text>
<text x="1147" y="413">MD4 (Ours)</text>
<text x="1147" y="424.5">GenMD4 (Ours)</text>
<g text-anchor="end"><text x="1323" y="389.5">≤ 27.28</text><text x="1323" y="401.5">≤ 24.10</text><text x="1323" y="413">≤ 22.13</text><text x="1323" y="424.5">≤ <tspan font-weight="bold">21.80</tspan></text>
<text x="1323" y="443">≤ <tspan font-weight="bold">16.64</tspan></text></g>
<line x1="1089" y1="432" x2="1330" y2="432" stroke="#111" stroke-width="0.6"/>
<text x="1096" y="443">Medium</text><text x="1147" y="443">MD4 (Ours)</text>
</g>
<text x="1349" y="373.5" font-size="9.5" fill="#202124" textLength="182" lengthAdjust="spacingAndGlyphs">GenMD4: Top-5 tokens w/ largest <tspan class="m">w</tspan><tspan class="m" font-size="6.5" dy="2">i</tspan><tspan dy="-2">s</tspan></text>
<g font-size="8.5" font-weight="bold" fill="#4f87ec" text-anchor="middle">
<text x="1437" y="389.5" font-family="Liberation Mono,monospace">'&lt;|endoftext|&gt;'</text>
<text x="1437" y="401" font-family="Liberation Mono,monospace">'\n'</text>
<text x="1437" y="412.5" font-family="Liberation Mono,monospace">'.'</text>
<text x="1437" y="424" font-family="Liberation Mono,monospace" xml:space="preserve">' ('</text>
<text x="1437" y="436" font-family="Liberation Mono,monospace">'_'</text>
<text x="1437" y="447" font-family="Liberation Mono,monospace" xml:space="preserve">' "'</text>
</g>

<line x1="1086" y1="487" x2="1537" y2="487" stroke="#aaa" stroke-width="0.8"/>
<text class="h" x="1086" y="508" textLength="230" lengthAdjust="spacingAndGlyphs">Pixel-Level Image Modeling</text>
<text class="b" x="1086" y="532.5" textLength="423" lengthAdjust="spacingAndGlyphs"><tspan class="k">SOTA likelihood for discrete diffusion</tspan> models: outperforming AR of similar</text>
<text class="b" x="1086" y="548.5" textLength="402" lengthAdjust="spacingAndGlyphs">sizes &amp; comparable to strong continuous diffusion models such as VDM</text>

<text x="1204" y="576" font-size="9" fill="#202124" text-anchor="middle">CIFAR-10</text>
<g stroke="#eee" stroke-width="0.4" stroke-dasharray="1,1"><line x1="1122" y1="589" x2="1287" y2="589"/><line x1="1122" y1="620" x2="1287" y2="620"/><line x1="1122" y1="650" x2="1287" y2="650"/><line x1="1122" y1="681" x2="1287" y2="681"/></g>
<g font-size="6" fill="#444" text-anchor="middle"><text x="1107" y="591">4.6</text><text x="1107" y="622">4.1</text><text x="1107" y="652">3.6</text><text x="1107" y="683">3.1</text><text x="1107" y="713">2.6</text></g>
<text transform="translate(1094,660) rotate(-90)" font-size="6.5" fill="#444" text-anchor="middle">Bits Per Dimension</text>
<rect x="1132" y="601" width="16" height="110.6" fill="#c8b0f6"/>
<rect x="1164" y="650.5" width="16" height="61" fill="#c8b0f6"/>
<rect x="1196" y="660" width="16" height="51.5" fill="#c8b0f6"/>
<rect x="1228" y="702" width="16" height="9.5" fill="#e35266"/>
<rect x="1259" y="699" width="16" height="12.5" fill="#86e3d3"/>
<line x1="1122" y1="702" x2="1287" y2="702" stroke="#333" stroke-width="0.5" stroke-dasharray="0.8,0.8"/>
<line x1="1251.5" y1="585" x2="1251.5" y2="711" stroke="#333" stroke-width="1" stroke-dasharray="2,1.5"/>
<text transform="translate(1236,588) rotate(90)" font-size="7" fill="#222">Discrete diffusion</text>
<text transform="translate(1263,589) rotate(90)" font-size="7" fill="#222">AR</text>
<text x="1236" y="695" font-size="11" fill="#f7c531" text-anchor="middle">★</text>
<g font-size="6" fill="#444">
<text transform="translate(1138,717) rotate(45)">D3PM Absorb</text>
<text transform="translate(1170,717) rotate(45)">D3PM Gauss</text>
<text transform="translate(1202,717) rotate(45)">tauLDR (36M)</text>
<text transform="translate(1233,717) rotate(45)">MD4 (28M)</text>
<text transform="translate(1265,717) rotate(45)">AR (59M)</text>
</g>

<text x="1427" y="575" font-size="9" fill="#202124" text-anchor="middle">ImageNet 64x64</text>
<g stroke="#eee" stroke-width="0.4" stroke-dasharray="1,1"><line x1="1338" y1="587" x2="1521" y2="587"/><line x1="1338" y1="618" x2="1521" y2="618"/><line x1="1338" y1="649" x2="1521" y2="649"/><line x1="1338" y1="680" x2="1521" y2="680"/></g>
<g font-size="6" fill="#444" text-anchor="middle"><text x="1324" y="589">3.58</text><text x="1324" y="620">3.53</text><text x="1324" y="651">3.48</text><text x="1324" y="682">3.43</text><text x="1324" y="713">3.38</text></g>
<rect x="1349" y="594" width="14" height="117.5" fill="#86e3d3"/>
<rect x="1378" y="674.5" width="14" height="37" fill="#86e3d3"/>
<rect x="1406" y="681" width="14" height="30.5" fill="#86e3d3"/>
<rect x="1434" y="699" width="14" height="12.5" fill="#86e3d3"/>
<rect x="1463" y="699" width="14" height="12.5" fill="#e35266"/>
<rect x="1491" y="699" width="14" height="12.5" fill="#f2a03c"/>
<line x1="1338" y1="699" x2="1521" y2="699" stroke="#333" stroke-width="0.5" stroke-dasharray="0.8,0.8"/>
<line x1="1453" y1="585" x2="1453" y2="711" stroke="#333" stroke-width="1" stroke-dasharray="2,1.5"/>
<line x1="1483" y1="585" x2="1483" y2="711" stroke="#333" stroke-width="1" stroke-dasharray="2,1.5"/>
<text transform="translate(1439,590) rotate(90)" font-size="7" fill="#222">AR</text>
<text transform="translate(1468,589) rotate(90)" font-size="7" fill="#222">Discrete diffusion</text>
<text transform="translate(1496,589) rotate(90)" font-size="7" fill="#222">Cont. diffusion</text>
<text x="1470" y="691" font-size="11" fill="#f7c531" text-anchor="middle">★</text>
<g font-size="6" fill="#444">
<text transform="translate(1354,717) rotate(45)">Gated PixelCNN</text>
<text transform="translate(1383,717) rotate(45)">Sparse Transf.</text>
<text transform="translate(1411,717) rotate(45)">Routing Transf.</text>
<text transform="translate(1439,717) rotate(45)">Perceiver AR (770M)</text>
<text transform="translate(1468,717) rotate(45)">MD4 (200M)</text>
<text transform="translate(1496,717) rotate(45)">VDM</text>
</g>
</svg>
<script>
(function(){
var NS="http://www.w3.org/2000/svg";
function el(p,t,a){var e=document.createElementNS(NS,t);for(var k in a)e.setAttribute(k,a[k]);p.appendChild(e);return e;}
var g=document.getElementById('fid');
var cols=['#6f9ccb','#d8a4c6','#db8c5c','#72bc9a'];
var xs=[598.2,653,707.4],vals=[[128,25,24,11],[73,18.5,18,7],[50,18.5,19,7.5]];
for(var i=0;i<3;i++)for(var j=0;j<4;j++){var h=vals[i][j]*0.848;el(g,'rect',{x:xs[i]+j*10.9,y:755.7-h,width:10.9,height:h,fill:cols[j]});}
var s=document.getElementById('sc');var seed=7;function r(){seed=(seed*16807)%2147483647;return seed/2147483647;}
function X(t){return 840.4+t*0.5924;}function Y(v){return 750.8-v*1.235;}
function f(t){return 76*Math.sin(Math.PI/2*t/256);}
var up=[],lo=[],bu=[],bl=[];
for(var t=0;t<=256;t+=4){var w=2+3*t/256;up.push(X(t)+','+Y(f(t)+w+r()*3));lo.unshift(X(t)+','+Y(Math.max(0,f(t)-w-r()*3)));bu.push(X(t)+','+Y(54+r()*4));bl.unshift(X(t)+','+Y(40+r()*4));}
el(s,'polygon',{points:bu.concat(bl).join(' '),fill:'#a9c6e4',opacity:0.6});
el(s,'polygon',{points:up.concat(lo).join(' '),fill:'#f8c7a0',opacity:0.6});
for(var t=0;t<256;t+=1.5){var v=48+(r()-0.5)*9;el(s,'circle',{cx:X(t),cy:Y(v),r:1.1,fill:'#2f6fb0',stroke:'#fff','stroke-width':0.2});}
for(var t=0;t<256;t+=2){var v=f(t)+(r()-0.5)*6;var x=X(t),y=Y(v);el(s,'path',{d:'M'+(x-1)+','+(y-1)+'L'+(x+1)+','+(y+1)+'M'+(x-1)+','+(y+1)+'L'+(x+1)+','+(y-1),stroke:'#f08a3a','stroke-width':0.6});}
})();
</script>
</body></html>
